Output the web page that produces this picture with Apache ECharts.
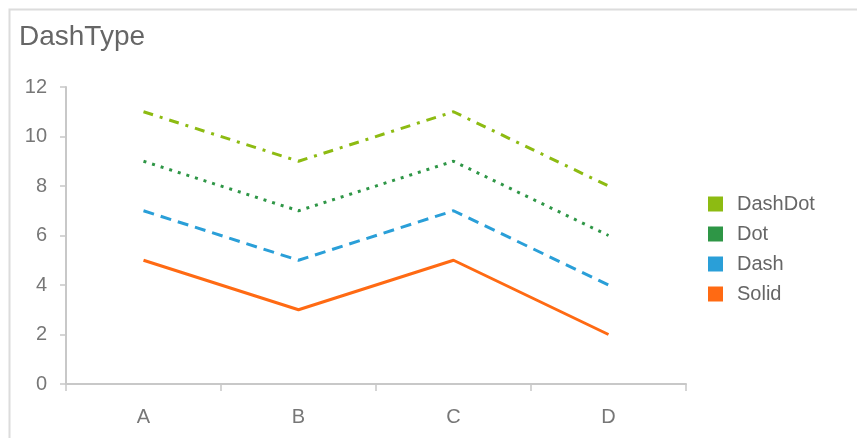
<!DOCTYPE html>
<html>
<head>
<meta charset="utf-8">
<script src="https://cdn.jsdelivr.net/npm/echarts@6/dist/echarts.min.js"></script>
<style>
  html, body { margin: 0; padding: 0; background: #fff; }
  #chart { width: 857px; height: 438px; }
</style>
</head>
<body>
<div id="chart"></div>
<script>
const categories = ['A', 'B', 'C', 'D']
const dashDotValues = [11, 9, 11, 8]
const dotValues = [9, 7, 9, 6]
const dashValues = [7, 5, 7, 4]
const solidValues = [5, 3, 5, 2]
const yTicks = { min: 0, max: 12, interval: 2 }

const font = 'Arial, "Liberation Sans", sans-serif'
const chart = echarts.init(document.getElementById('chart'))

function lineSeries(name, data, color, type) {
  return {
    name: name,
    type: 'line',
    data: data,
    symbol: 'none',
    lineStyle: { color: color, width: 3, type: type, cap: 'butt' },
    itemStyle: { color: color }
  }
}

const option = {
  animation: false,
  textStyle: { fontFamily: font },
  graphic: [{
    type: 'rect',
    left: 7, top: 7,
    shape: { width: 900, height: 500 },
    style: { fill: 'none', stroke: '#dcdcdc', lineWidth: 2 }
  }],
  title: {
    text: 'DashType',
    left: 19, top: 23,
    padding: 0,
    textStyle: { color: '#666', fontSize: 28, fontWeight: 'normal', fontFamily: font }
  },
  legend: {
    orient: 'vertical',
    left: 708, top: 194,
    padding: 0,
    itemWidth: 15, itemHeight: 15,
    itemGap: 10,
    icon: 'rect',
    data: ['DashDot', 'Dot', 'Dash', 'Solid'],
    textStyle: { color: '#666', fontSize: 20, fontFamily: font, padding: [0, 0, 0, 9] }
  },
  grid: { left: 66, top: 87, width: 620, height: 297 },
  xAxis: {
    type: 'category',
    data: categories,
    boundaryGap: true,
    axisLine: { lineStyle: { color: '#c8c8c8', width: 2 } },
    axisTick: { show: true, length: 7, lineStyle: { color: '#c8c8c8', width: 1.5 } },
    axisLabel: { color: '#777', fontSize: 20, margin: 23 }
  },
  yAxis: {
    type: 'value',
    min: yTicks.min, max: yTicks.max, interval: yTicks.interval,
    splitLine: { show: false },
    axisLine: { show: true, lineStyle: { color: '#c8c8c8', width: 2 } },
    axisTick: { show: true, length: 6, lineStyle: { color: '#c8c8c8', width: 1.5 } },
    axisLabel: { color: '#777', fontSize: 20, margin: 19 }
  },
  series: [
    lineSeries('DashDot', dashDotValues, '#8dbb12', [10, 7, 3, 7]),
    lineSeries('Dot', dotValues, '#2e9646', [3, 6]),
    lineSeries('Dash', dashValues, '#2a9fd8', [11, 7]),
    lineSeries('Solid', solidValues, '#ff6a13', 'solid')
  ]
}

chart.setOption(option)
</script>
</body>
</html>
